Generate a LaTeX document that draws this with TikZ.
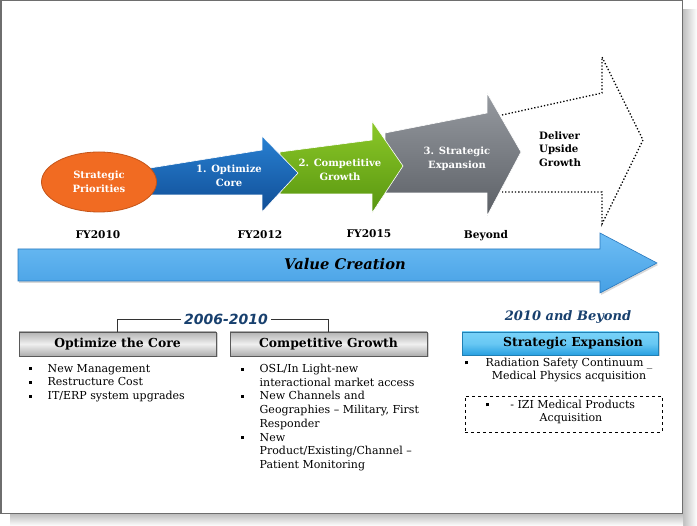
\documentclass[tikz,border=0pt]{standalone}
\usepackage{fontspec}
\setmainfont{DejaVu Serif}
\newfontfamily\headsans{DejaVu Sans}
\usetikzlibrary{shapes.geometric,shadows}
\definecolor{frameg}{RGB}{110,110,110}
\definecolor{orng}{RGB}{241,107,34}
\definecolor{orngd}{RGB}{196,84,24}
\definecolor{blueA}{RGB}{40,128,210}
\definecolor{blueB}{RGB}{16,78,150}
\definecolor{greenA}{RGB}{140,200,40}
\definecolor{greenB}{RGB}{88,150,16}
\definecolor{grayA}{RGB}{150,154,160}
\definecolor{grayB}{RGB}{92,96,102}
\definecolor{vcA}{RGB}{110,190,245}
\definecolor{vcB}{RGB}{70,160,228}
\definecolor{vcD}{RGB}{40,120,190}
\definecolor{navy}{RGB}{24,64,110}
\definecolor{seA}{RGB}{120,210,248}
\definecolor{seB}{RGB}{40,160,225}
\newcommand\bul{\makebox[19pt][l]{\rule[2pt]{3pt}{3pt}}}
\newcommand\ind{\hspace*{19pt}}
\tikzset{
  arrowtxt/.style={text=white, font=\fontsize{10}{14}\selectfont\bfseries, align=center, inner sep=0pt},
  yeartxt/.style={font=\fontsize{10.6}{12}\selectfont\bfseries, inner sep=0pt},
  headbox/.style={draw=gray!70!black, line width=0.4pt, minimum height=24pt, inner sep=0pt,
     font=\fontsize{12.4}{14}\selectfont\bfseries,
     drop shadow={opacity=0.35, shadow xshift=1.5pt, shadow yshift=-1.5pt}},
  graybox/.style={headbox, top color=gray!60, bottom color=gray!65, middle color=gray!12},
  bluebox/.style={headbox, draw=seB!80!black, top color=seA, bottom color=seB, middle color=seA!80!seB},
  listtxt/.style={font=\fontsize{11}{13.7}\selectfont, align=left, anchor=north west, inner sep=0pt},
  ctrtxt/.style={font=\fontsize{11}{13.7}\selectfont, align=center, inner sep=0pt},
}
\begin{document}
\begin{tikzpicture}[x=1pt,y=-1pt]
\useasboundingbox (0,0) rectangle (697,526);
% shadow of page
\shade[left color=gray!50, right color=white] (683,10) rectangle (697,526);
\shade[top color=gray!50, bottom color=white] (10,514) rectangle (683,526);
\fill[white, draw=frameg, line width=1.5pt] (0.75,0.75) rectangle (682.5,513.5);

% dotted outline arrow
\draw[line width=1.3pt, dotted] (502,115) -- (602,93) -- (602,57) -- (643,140) -- (602,224) -- (602,192) -- (502,192);
% gray arrow
\shade[top color=grayA, bottom color=grayB, draw=white, line width=0.6pt]
  (385,133) -- (487,113) -- (487,93) -- (521,152) -- (487,216) -- (487,193) -- (385,193) -- cycle;
% green arrow
\shade[top color=greenA, bottom color=greenB, draw=white, line width=0.6pt]
  (280,152) -- (372,140) -- (372,121) -- (403,166) -- (372,213) -- (372,194) -- (280,194) -- cycle;
% blue arrow
\shade[top color=blueA, bottom color=blueB, draw=white, line width=0.6pt]
  (150,168) -- (262,150) -- (262,136) -- (298,173) -- (262,212) -- (262,195) -- (150,195) -- cycle;
% ellipse
\node[ellipse, fill=orng, draw=orngd, line width=0.8pt, minimum width=115pt, minimum height=60pt,
      arrowtxt] (sp) at (99,182) {Strategic\\Priorities};

\node[arrowtxt] (oc) at (229,176) {1. Optimize\\Core};
\node[arrowtxt] (cg) at (340,170) {2. Competitive\\Growth};
\node[arrowtxt] (se) at (457,159) {3. Strategic\\Expansion};
\node[font=\fontsize{10.2}{13.5}\selectfont\bfseries, align=left, anchor=west, inner sep=0pt] (du) at (539,149) {Deliver\\Upside\\Growth};

\node[yeartxt] (y1) at (98,235) {FY2010};
\node[yeartxt] (y2) at (260,235) {FY2012};
\node[yeartxt] (y3) at (369,234) {FY2015};
\node[yeartxt] (y4) at (486,236) {Beyond};

% value creation arrow
\shade[top color=vcA, bottom color=vcB, draw=vcD, line width=0.6pt,
       drop shadow={opacity=0.3, shadow xshift=1pt, shadow yshift=-2pt}]
  (18,249) -- (600,249) -- (600,233) -- (657,263) -- (600,293) -- (600,281) -- (18,281) -- cycle;
\node[font=\fontsize{14.7}{16}\selectfont\bfseries\itshape, inner sep=0pt] (vc) at (345,264) {Value Creation};

% lower section
\node[font=\headsans\fontsize{14}{16}\selectfont\bfseries\itshape, text=navy, inner sep=3pt] (per) at (226,319) {2006-2010};
\node[graybox, minimum width=197pt] (core) at (117.5,344) {Optimize the Core};
\node[graybox, minimum width=197pt] (comp) at (328.5,344) {Competitive Growth};
\draw[line width=0.9pt, black!80] (per.west) -| (core.north);
\draw[line width=0.9pt, black!80] (per.east) -| (comp.north);

\node[listtxt] (l1) at (28.5,364) {\bul New Management\\\bul Restructure Cost\\\bul IT/ERP system upgrades};
\node[listtxt] (l2) at (240.5,364) {\bul OSL/In Light-new\\\ind interactional market access\\\bul New Channels and\\\ind Geographies -- Military, First\\\ind Responder\\\bul New\\\ind Product/Existing/Channel --\\\ind Patient Monitoring};

\node[font=\fontsize{13}{15}\selectfont\bfseries\itshape, text=navy, inner sep=0pt] (beyond) at (568,317) {2010 and Beyond};
\node[bluebox, minimum width=196pt, minimum height=23pt] (sexp) at (560,343.5) {\hspace*{26pt}Strategic Expansion};
\node[inner sep=0pt] (b1) at (466,363) {\rule{3pt}{3pt}};
\node[ctrtxt] (r1) at (569,370) {Radiation Safety Continuum \_\\Medical Physics acquisition};
\node[draw, dashed, line width=0.8pt, minimum width=197pt, minimum height=36pt, inner sep=0pt] (dbox) at (563.5,414) {};
\node[inner sep=0pt] (b2) at (487,405) {\rule{3pt}{3pt}};
\node[ctrtxt] (r2) at (571,412) {\ - IZI Medical Products\\Acquisition};
\end{tikzpicture}
\end{document}
